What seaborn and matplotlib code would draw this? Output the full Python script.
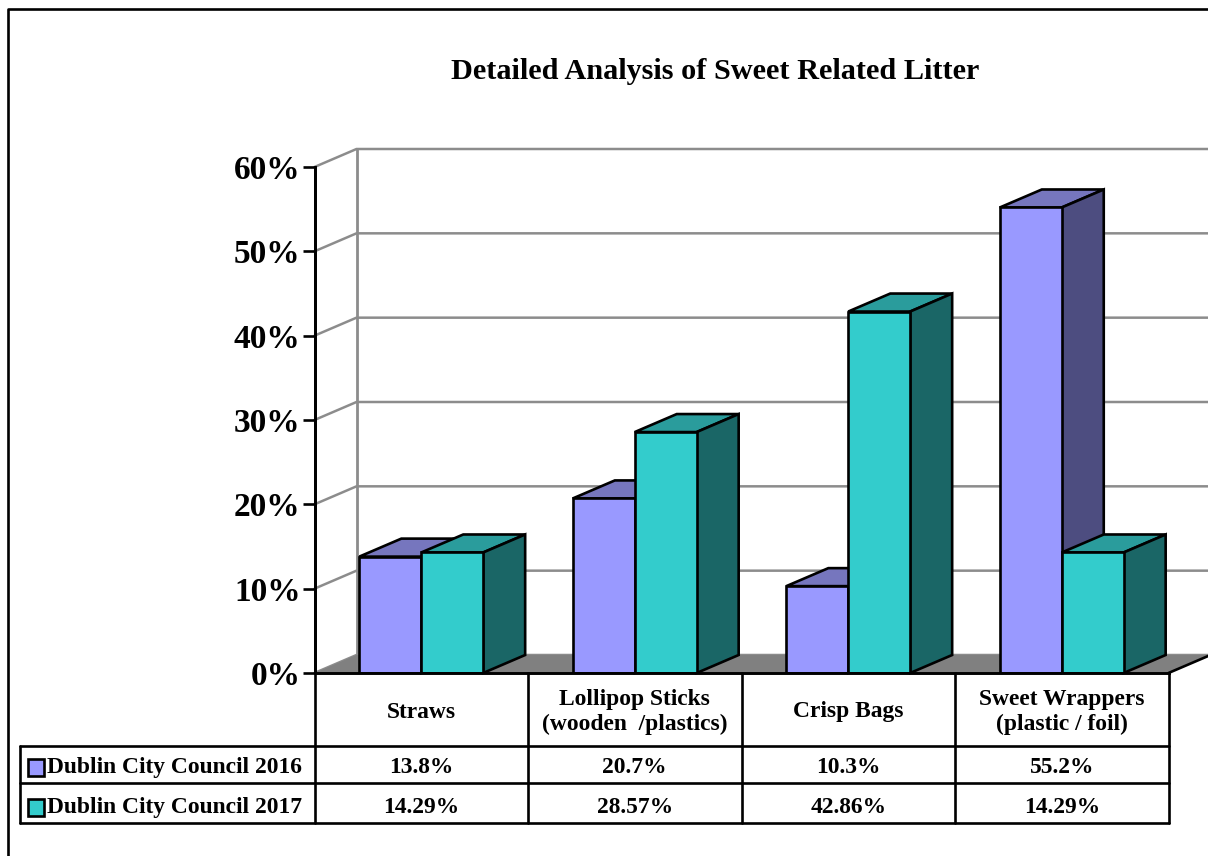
import matplotlib
matplotlib.use('Agg')
import matplotlib.pyplot as plt
from matplotlib.patches import Polygon, Rectangle
import pandas as pd
import seaborn as sns

categories = ['Straws', 'Lollipop Sticks\n(wooden  /plastics)', 'Crisp Bags', 'Sweet Wrappers\n(plastic / foil)']
series_names = ['Dublin City Council 2016', 'Dublin City Council 2017']
values_2016 = [13.8, 20.7, 10.3, 55.2]
values_2017 = [14.29, 28.57, 42.86, 14.29]
labels_2016 = ['13.8%', '20.7%', '10.3%', '55.2%']
labels_2017 = ['14.29%', '28.57%', '42.86%', '14.29%']
y_ticks = [0, 10, 20, 30, 40, 50, 60]

front_colors = ['#9999FF', '#33CCCC']
top_colors = ['#7676BE', '#2A9C9C']
side_colors = ['#4D4D80', '#1A6666']
grid_color = '#8C8C8C'
floor_color = '#808080'

W, H = 1208, 856
AX_L, AX_R, AX_T, AX_B = 314.5, 1168.5, 167, 673
DX_PX, DY_PX = 42, 18
TABLE_L, TABLE_ROW1, TABLE_ROW2, TABLE_B = 20, 746, 783, 823
LW = 1.9

df = pd.DataFrame({
    'category': categories * 2,
    'series': [series_names[0]] * 4 + [series_names[1]] * 4,
    'value': values_2016 + values_2017,
})

sns.set_theme(style='white')
plt.rcParams['font.family'] = ['Liberation Serif', 'DejaVu Serif']
plt.rcParams['font.weight'] = 'bold'

fig = plt.figure(figsize=(W / 100, H / 100), dpi=100)
ax = fig.add_axes([AX_L / W, 1 - AX_B / H, (AX_R - AX_L) / W, (AX_B - AX_T) / H])
ax.patch.set_alpha(0)

sns.barplot(data=df, x='category', y='value', hue='series', order=categories,
            hue_order=series_names, palette=front_colors, width=0.58, gap=0,
            legend=False, edgecolor='black', linewidth=LW, saturation=1, ax=ax)
ax.set_xlim(-0.5, 3.5)
ax.set_ylim(0, 60)
ax.set_xlabel('')
ax.set_ylabel('')
ax.set_xticks(range(4))
ax.set_xticklabels([])
ax.tick_params(axis='x', length=0)
ax.set_yticks(y_ticks)
ax.set_yticklabels([f'{t}%' for t in y_ticks], fontsize=24, fontweight='bold', color='black')
ax.tick_params(axis='y', left=True, length=9, width=LW, color='black', pad=1)
for side in ['top', 'right']:
    ax.spines[side].set_visible(False)
for side in ['left', 'bottom']:
    ax.spines[side].set_color('black')
    ax.spines[side].set_linewidth(2.1)
    ax.spines[side].set_zorder(10)

# depth of the fake 3d box, in data units
dx = DX_PX / (AX_R - AX_L) * 4
dy = DY_PX / (AX_B - AX_T) * 60

# back wall and floor
x0, x1 = -0.5, 3.5
ax.add_patch(Polygon([(x0, 0), (x0 + dx, dy), (x1 + dx, dy), (x1, 0)], closed=True,
                     facecolor=floor_color, edgecolor='none', zorder=0.5, clip_on=False))
ax.plot([x1, x1 + dx], [0, dy], color='black', lw=LW, zorder=0.6, clip_on=False)
for t in y_ticks:
    ax.plot([x0, x0 + dx, x1 + dx], [t, t + dy, t + dy], color=grid_color, lw=1.8,
            zorder=0.4, clip_on=False)
ax.plot([x0 + dx, x0 + dx], [dy, 60 + dy], color=grid_color, lw=2, zorder=0.4, clip_on=False)

# top and side faces for every bar
for s, container in enumerate(ax.containers):
    for bar in container:
        left, right = bar.get_x(), bar.get_x() + bar.get_width()
        h = bar.get_height()
        bar.set_zorder(4 + 2 * s)
        bar.set_joinstyle('miter')
        ax.add_patch(Polygon([(left, h), (left + dx, h + dy), (right + dx, h + dy), (right, h)],
                             closed=True, facecolor=top_colors[s], edgecolor='black', lw=LW,
                             zorder=3 + 2 * s, clip_on=False))
        ax.add_patch(Polygon([(right, 0), (right + dx, dy), (right + dx, h + dy), (right, h)],
                             closed=True, facecolor=side_colors[s], edgecolor='black', lw=LW,
                             zorder=3 + 2 * s, clip_on=False))

# overlay in pixels for frame, title and data table
ov = fig.add_axes([0, 0, 1, 1], zorder=20)
ov.set_xlim(0, W)
ov.set_ylim(H, 0)
ov.axis('off')
ov.patch.set_alpha(0)

ov.plot([8, 8, W + 5], [H + 5, 9, 9], color='black', lw=LW)
ov.text(715, 71, 'Detailed Analysis of Sweet Related Litter', ha='center', va='center',
        fontsize=21.8, fontweight='bold', color='black')

col_w = (AX_R - AX_L) / 4
for i in range(5):
    x = AX_L + i * col_w
    ov.plot([x, x], [AX_T if i == 0 else AX_B, TABLE_B], color='black', lw=LW)
ov.plot([TABLE_L, TABLE_L], [TABLE_ROW1, TABLE_B], color='black', lw=LW)
for y in [TABLE_ROW1, TABLE_ROW2, TABLE_B]:
    ov.plot([TABLE_L, AX_R], [y, y], color='black', lw=LW)

cell_size = 16.9
row1_y = (TABLE_ROW1 + TABLE_ROW2) / 2 + 3
row2_y = (TABLE_ROW2 + TABLE_B) / 2 + 4.5
for i, cat in enumerate(categories):
    xc = AX_L + (i + 0.5) * col_w
    ov.text(xc, (AX_B + TABLE_ROW1) / 2 + 2.5, cat, ha='center', va='center', fontsize=cell_size,
            fontweight='bold', color='black', linespacing=1.28)
    ov.text(xc, row1_y, labels_2016[i], ha='center', va='center',
            fontsize=cell_size, fontweight='bold', color='black')
    ov.text(xc, row2_y, labels_2017[i], ha='center', va='center',
            fontsize=cell_size, fontweight='bold', color='black')

for s, yc in enumerate([row1_y, row2_y]):
    ov.add_patch(Rectangle((28, yc - 8.5), 16, 17, facecolor=front_colors[s], edgecolor='black', lw=LW))
    ov.text(47, yc, series_names[s], ha='left', va='center', fontsize=cell_size,
            fontweight='bold', color='black')

fig.savefig('out.png', dpi=100)
